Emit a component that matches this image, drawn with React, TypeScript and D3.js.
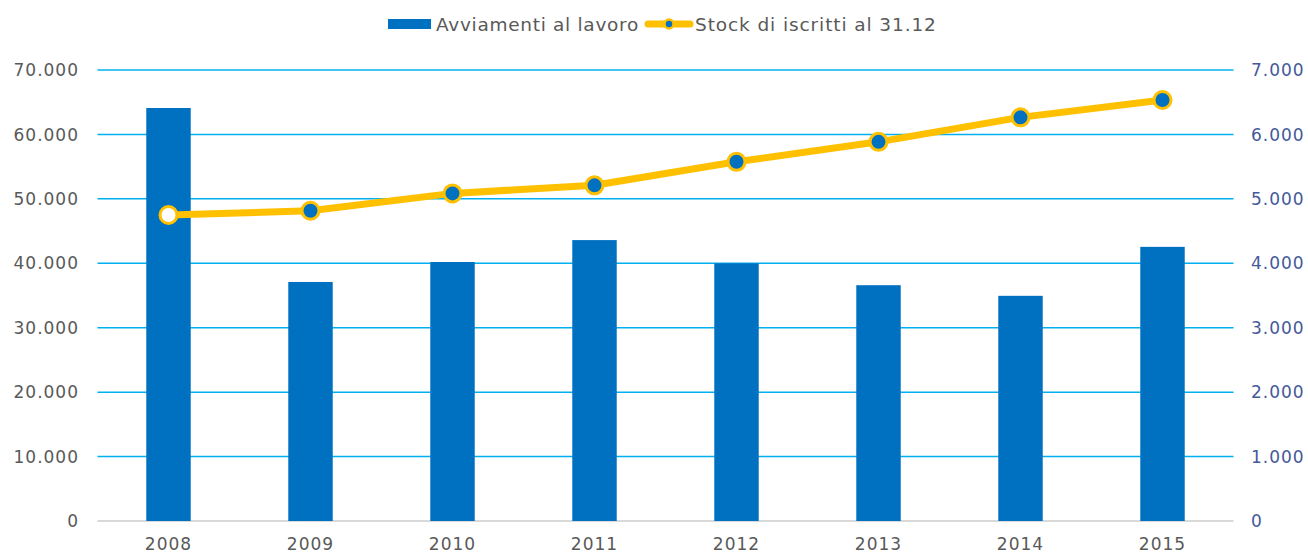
import * as d3 from 'd3';

const years = ['2008', '2009', '2010', '2011', '2012', '2013', '2014', '2015'];
const avviamenti = [64100, 37100, 40200, 43600, 40000, 36600, 34950, 42550];
const stock = [4750, 4815, 5085, 5210, 5575, 5885, 6265, 6535];
const leftTicks = [0, 10000, 20000, 30000, 40000, 50000, 60000, 70000];
const rightTicks = [0, 1000, 2000, 3000, 4000, 5000, 6000, 7000];

const W = 1308;
const H = 554;
const FONT = '"DejaVu Sans", "Noto Sans", sans-serif';

const fmt = (v: number) => (v === 0 ? '0' : d3.format(',')(v).replace(/,/g, '.'));

export default function App() {
  const x = d3.scaleBand<string>().domain(years).range([97.5, 1233.5]);
  const yL = d3.scaleLinear().domain([0, 70000]).range([521, 70]);
  const yR = d3.scaleLinear().domain([0, 7000]).range([521, 70]);
  const barW = x.bandwidth() * 0.313;
  const cx = (yr: string) => (x(yr) ?? 0) + x.bandwidth() / 2;

  const line = d3
    .line<number>()
    .x((_, i) => cx(years[i]))
    .y((v) => yR(v));

  return (
    <svg width={W} height={H} style={{ position: 'absolute', left: 0, top: 0, fontFamily: FONT }}>
      <rect width={W} height={H} fill="#fff" />

      {leftTicks.map((t) => (
        <g key={t}>
          <line
            x1={97.5}
            x2={1233.5}
            y1={yL(t)}
            y2={yL(t)}
            stroke={t === 0 ? '#D9D9D9' : '#00B0F0'}
            strokeWidth={t === 0 ? 2 : 1.5}
          />
          <text x={79} y={yL(t)} dy="0.36em" textAnchor="end" fontSize={17} fill="#595959" letterSpacing={1}>
            {fmt(t)}
          </text>
        </g>
      ))}

      {rightTicks.map((t) => (
        <text key={t} x={1251} y={yR(t)} dy="0.36em" fontSize={17} fill="#44599A" letterSpacing={1}>
          {fmt(t)}
        </text>
      ))}

      {years.map((yr, i) => (
        <g key={yr}>
          <rect x={cx(yr) - barW / 2} y={yL(avviamenti[i])} width={barW} height={yL(0) - yL(avviamenti[i])} fill="#0070C0" />
          <text x={cx(yr)} y={550} textAnchor="middle" fontSize={17} fill="#595959" letterSpacing={1}>
            {yr}
          </text>
        </g>
      ))}

      <path d={line(stock) || ''} fill="none" stroke="#FFC000" strokeWidth={7} strokeLinejoin="round" />
      {stock.map((v, i) => (
        <circle
          key={i}
          cx={cx(years[i])}
          cy={yR(v)}
          r={8.5}
          fill={i === 0 ? '#fff' : '#0070C0'}
          stroke="#FFC000"
          strokeWidth={3}
        />
      ))}

      {/* legend */}
      <rect x={388} y={19} width={43} height={10} fill="#0070C0" />
      <text x={436} y={31} fontSize={18.5} fill="#595959" letterSpacing={0.7}>
        Avviamenti al lavoro
      </text>
      <line x1={648} x2={690} y1={24} y2={24} stroke="#FFC000" strokeWidth={7} strokeLinecap="round" />
      <circle cx={669} cy={24} r={4.5} fill="#0070C0" stroke="#FFC000" strokeWidth={2.5} />
      <text x={695} y={31} fontSize={18.5} fill="#595959" letterSpacing={0.9}>
        Stock di iscritti al 31.12
      </text>
    </svg>
  );
}
